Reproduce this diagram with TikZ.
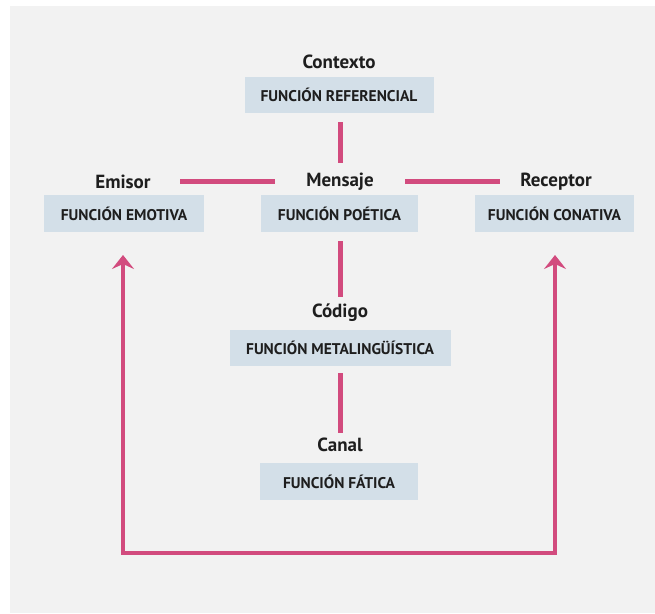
\documentclass[tikz,border=0pt]{standalone}
\usepackage{fontspec}
\setmainfont{PT Sans}
\usetikzlibrary{arrows.meta}
\definecolor{panel}{HTML}{F2F2F2}
\definecolor{boxfill}{HTML}{D3DFE8}
\definecolor{pinkline}{HTML}{D24B7E}
\definecolor{ink}{HTML}{1E1E1E}
\tikzset{
  fbox/.style={fill=boxfill, inner sep=0pt, minimum height=36pt, font=\fontsize{15.5}{17}\selectfont\bfseries, text=ink},
  lbl/.style={inner sep=0pt, font=\fontsize{19}{21}\selectfont\bfseries, text=ink},
  link/.style={draw=pinkline, line width=5pt},
  arrowlink/.style={draw=pinkline, line width=4pt, line join=miter, -{Stealth[length=14pt, width=22pt, inset=5pt]}}
}
\begin{document}
\begin{tikzpicture}[x=1pt,y=-1pt]
\useasboundingbox (0,0) rectangle (655,613);
\fill[white] (0,0) rectangle (655,613);
\fill[panel] (10,6) rectangle (655,613);
% labels
\node[lbl] (ctx) at (339,62) {Contexto};
\node[lbl] (emi) at (123,182) {Emisor};
\node[lbl] (men) at (340,182) {Mensaje};
\node[lbl] (rec) at (556,182) {Receptor};
\node[lbl] (cod) at (340,313) {Código};
\node[lbl] (can) at (340,445) {Canal};
% boxes
\node[fbox, minimum width=189pt] (ref) at (339,95) {FUNCIÓN REFERENCIAL};
\node[fbox, minimum width=160pt, minimum height=37pt] (emo) at (124,213.5) {FUNCIÓN EMOTIVA};
\node[fbox, minimum width=157pt, minimum height=37pt] (poe) at (339.5,213.5) {FUNCIÓN POÉTICA};
\node[fbox, minimum width=159pt, minimum height=37pt] (con) at (554.5,213.5) {FUNCIÓN CONATIVA};
\node[fbox, minimum width=221pt] (met) at (340,348) {FUNCIÓN METALINGÜÍSTICA};
\node[fbox, minimum width=158pt, minimum height=37pt] (fat) at (339,481.5) {FUNCIÓN FÁTICA};
% coordinates for connector ends
\coordinate (refB) at (340,122);
\coordinate (menT) at (340,163);
\coordinate (emR) at (180,181);
\coordinate (meL) at (275,181);
\coordinate (meR) at (405,181);
\coordinate (reL) at (500,181);
\coordinate (poB) at (340,241);
\coordinate (coT) at (340,297);
\coordinate (mtB) at (340,373);
\coordinate (caT) at (340,433);
\coordinate (bl) at (123,553);
\coordinate (br) at (555,553);
\coordinate (emoTip) at (123,255);
\coordinate (conTip) at (555,255);
% connectors
\draw[link] (refB) -- (menT);
\draw[link] (emR) -- (meL);
\draw[link] (meR) -- (reL);
\draw[link] (poB) -- (coT);
\draw[link] (mtB) -- (caT);
\draw[arrowlink] (br) -- (bl) -- (emoTip);
\draw[arrowlink] (bl) -- (br) -- (conTip);
\end{tikzpicture}
\end{document}
